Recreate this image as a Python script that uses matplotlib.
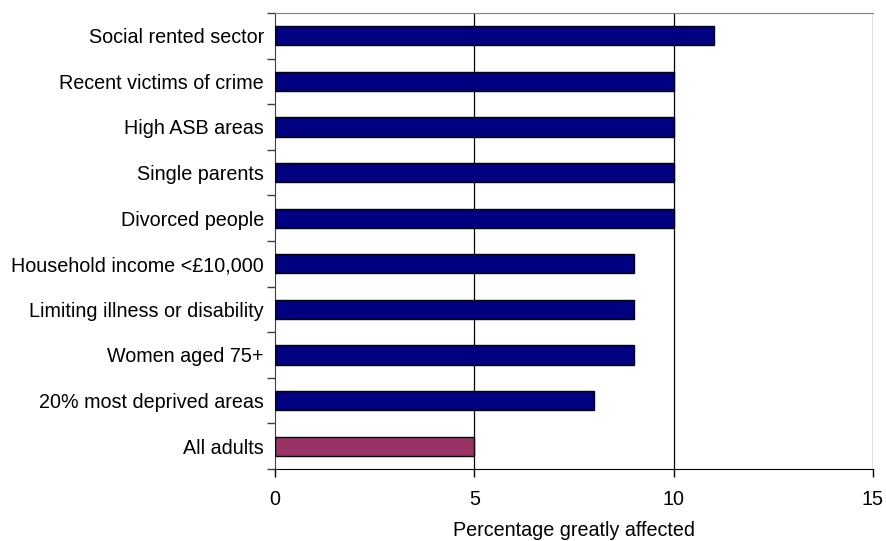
import numpy as np
import matplotlib
matplotlib.use("Agg")
import matplotlib.pyplot as plt

plt.rcParams["font.family"] = ["Liberation Sans", "DejaVu Sans"]

categories = [
    "Social rented sector",
    "Recent victims of crime",
    "High ASB areas",
    "Single parents",
    "Divorced people",
    "Household income <£10,000",
    "Limiting illness or disability",
    "Women aged 75+",
    "20% most deprived areas",
    "All adults",
]
values = [11, 10, 10, 10, 10, 9, 9, 9, 8, 5]
colors = ["#000080"] * 9 + ["#993366"]

fig = plt.figure(figsize=(8.86, 5.41), dpi=100)
ax = fig.add_axes([275 / 886, 1 - 469 / 541, (873 - 275) / 886, (469 - 13) / 541])

y = np.arange(len(categories))[::-1]
ax.barh(y, values, height=0.42, color=colors, edgecolor="black", linewidth=1, zorder=3)

fs = 14.2
ax.set_xlim(0, 15)
ax.set_ylim(-0.5, len(categories) - 0.5)
ax.set_xticks([0, 5, 10, 15])
ax.set_yticks(y)
ax.set_yticklabels(categories, fontsize=fs)
ax.set_yticks(np.arange(-0.5, len(categories), 1), minor=True)
ax.tick_params(axis="y", which="major", length=0, pad=8)
ax.tick_params(axis="y", which="minor", length=6, color="#404040", width=1)
ax.tick_params(axis="x", length=6, width=1, labelsize=fs, pad=9)

for gx in [5, 10, 15]:
    ax.axvline(gx, color="black", linewidth=0.9, zorder=1)

ax.spines["top"].set_color("#808080")
ax.spines["right"].set_visible(False)
ax.spines["left"].set_color("#404040")
ax.spines["bottom"].set_color("black")

ax.set_xlabel("Percentage greatly affected", fontsize=fs, labelpad=8.5)

fig.savefig("out.png", dpi=100)
